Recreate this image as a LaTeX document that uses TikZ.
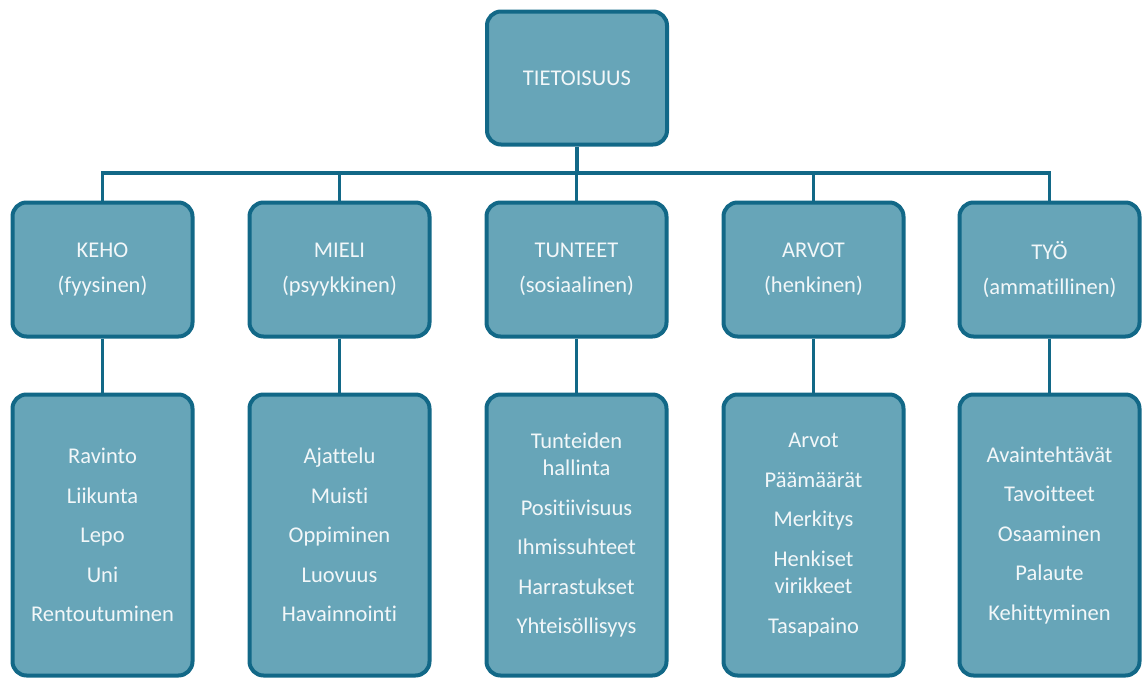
\documentclass[tikz,border=0pt]{standalone}
\usepackage{fontspec}
\setmainfont{Carlito}[Ligatures={NoCommon}]
\definecolor{boxfill}{RGB}{103,165,184}
\definecolor{boxline}{RGB}{18,104,135}
\definecolor{boxtext}{RGB}{242,247,249}
\begin{document}
\begin{tikzpicture}[x=1pt,y=-1pt,
  box/.style={draw=boxline, line width=4pt, fill=boxfill, rounded corners=14pt,
    minimum width=180pt, text=boxtext, align=center, inner sep=0pt,
    font=\fontsize{22.5}{27.5}\selectfont},
  topbox/.style={box, minimum height=133pt},
  midbox/.style={box, minimum height=134pt},
  lowbox/.style={box, minimum height=281pt},
  conn/.style={draw=boxline, line width=3.5pt}]
\useasboundingbox (0,0) rectangle (1144,680);
\node[topbox] (top) at (577,78) {TIETOISUUS};
\node[midbox] (m1) at (102.5,269.5) {KEHO\\[8pt](fyysinen)};
\node[midbox] (m2) at (339.5,269.5) {MIELI\\[8pt](psyykkinen)};
\node[midbox] (m3) at (576.5,269.5) {TUNTEET\\[8pt](sosiaalinen)};
\node[midbox] (m4) at (813.5,269.5) {ARVOT\\[8pt](henkinen)};
\node[midbox] (m5) at (1049.5,269.5) {TYÖ\\[8pt](ammatillinen)};
\node[lowbox] (b1) at (102.5,535) {Ravinto\\[12pt]Liikunta\\[12pt]Lepo\\[12pt]Uni\\[12pt]Rentoutuminen};
\node[lowbox] (b2) at (339.5,535) {Ajattelu\\[12pt]Muisti\\[12pt]Oppiminen\\[12pt]Luovuus\\[12pt]Havainnointi};
\node[lowbox] (b3) at (576.5,535) {Tunteiden\\hallinta\\[12pt]Positiivisuus\\[12pt]Ihmissuhteet\\[12pt]Harrastukset\\[12pt]Yhteisöllisyys};
\node[lowbox] (b4) at (813.5,535) {Arvot\\[12pt]Päämäärät\\[12pt]Merkitys\\[12pt]Henkiset\\virikkeet\\[12pt]Tasapaino};
\node[lowbox] (b5) at (1049.5,535) {Avaintehtävät\\[12pt]Tavoitteet\\[12pt]Osaaminen\\[12pt]Palaute\\[12pt]Kehittyminen};
\coordinate (bus) at (577,173);
\draw[conn] (top.south) -- (bus);
\foreach \i in {1,...,5} {
  \draw[conn] (m\i.north) |- (bus);
  \draw[conn] (m\i.south) -- (b\i.north);
}
\end{tikzpicture}
\end{document}
